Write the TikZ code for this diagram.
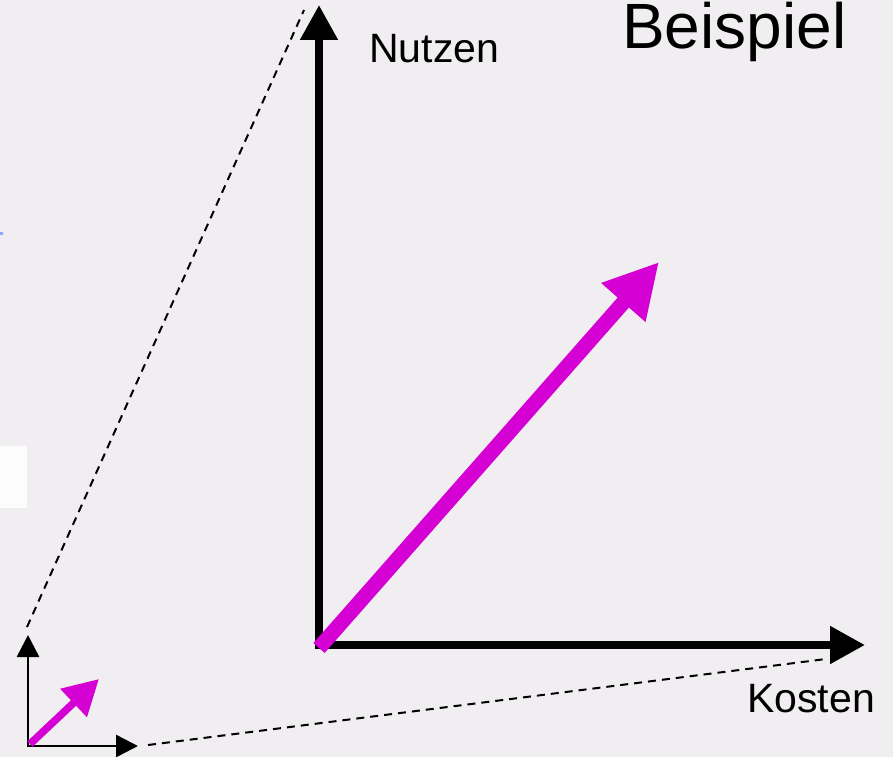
\documentclass[tikz,border=0pt]{standalone}
\usepackage{fontspec}
\setmainfont{Liberation Sans}
\usetikzlibrary{arrows.meta}
\definecolor{bgc}{HTML}{F0EEF0}
\definecolor{mag}{HTML}{D400D4}
\definecolor{specks}{HTML}{8AA8FF}
\begin{document}
\begin{tikzpicture}[x=1pt,y=-1pt,
  axis/.style={line width=8pt,-{Triangle[length=35pt,width=36pt]}},
  smallaxis/.style={line width=2.5pt,-{Triangle[length=22pt,width=22pt]}},
  bigvec/.style={mag,line width=15pt,-{Triangle[length=54pt,width=55pt]}},
  smallvec/.style={mag,line width=7.5pt,-{Triangle[length=35pt,width=37pt]}},
  guide/.style={line width=2pt,dash pattern=on 8pt off 6pt},
  lbl/.style={inner sep=0pt,anchor=base west,font=\fontsize{41}{41}\selectfont}]
\fill[bgc] (0,0) rectangle (893,757);
\useasboundingbox (0,0) rectangle (893,757);
\fill[white!60!bgc!40!white] (0,446) rectangle (27,508);
\fill[specks] (0,232) rectangle (3,235);
% coordinates
\coordinate (O) at (319,645);
\coordinate (Ov) at (319,649);
\coordinate (Oh) at (315,645);
\coordinate (Ytip) at (319,5);
\coordinate (Xtip) at (865,645);
\coordinate (Vs) at (319,648);
\coordinate (Vt) at (659,262);
\coordinate (o) at (28,746);
\coordinate (ytip) at (28,635);
\coordinate (xtip) at (138,746);
\coordinate (vs) at (30,744);
\coordinate (vt) at (99,679);
\coordinate (d1a) at (27,627);
\coordinate (d1b) at (304,10);
\coordinate (d2a) at (148,745);
\coordinate (d2b) at (826,659);
% guides
\draw[guide] (d1a) -- (d1b);
\draw[guide] (d2a) -- (d2b);
% big axes
\draw[axis] (Ov) -- (Ytip);
\draw[axis] (Oh) -- (Xtip);
\draw[bigvec] (Vs) -- (Vt);
% small axes
\draw[smallaxis] (28,747) -- (ytip);
\draw[smallaxis] (27,746) -- (xtip);
\draw[smallvec] (vs) -- (vt);
% labels
\node[lbl] (nutzen) at (369,63) {Nutzen};
\node[lbl] (kosten) at (747,712) {Kosten};
\node[inner sep=0pt,anchor=base west,font=\fontsize{64}{64}\selectfont] (beispiel) at (622,49) {Beispiel};
\end{tikzpicture}
\end{document}
